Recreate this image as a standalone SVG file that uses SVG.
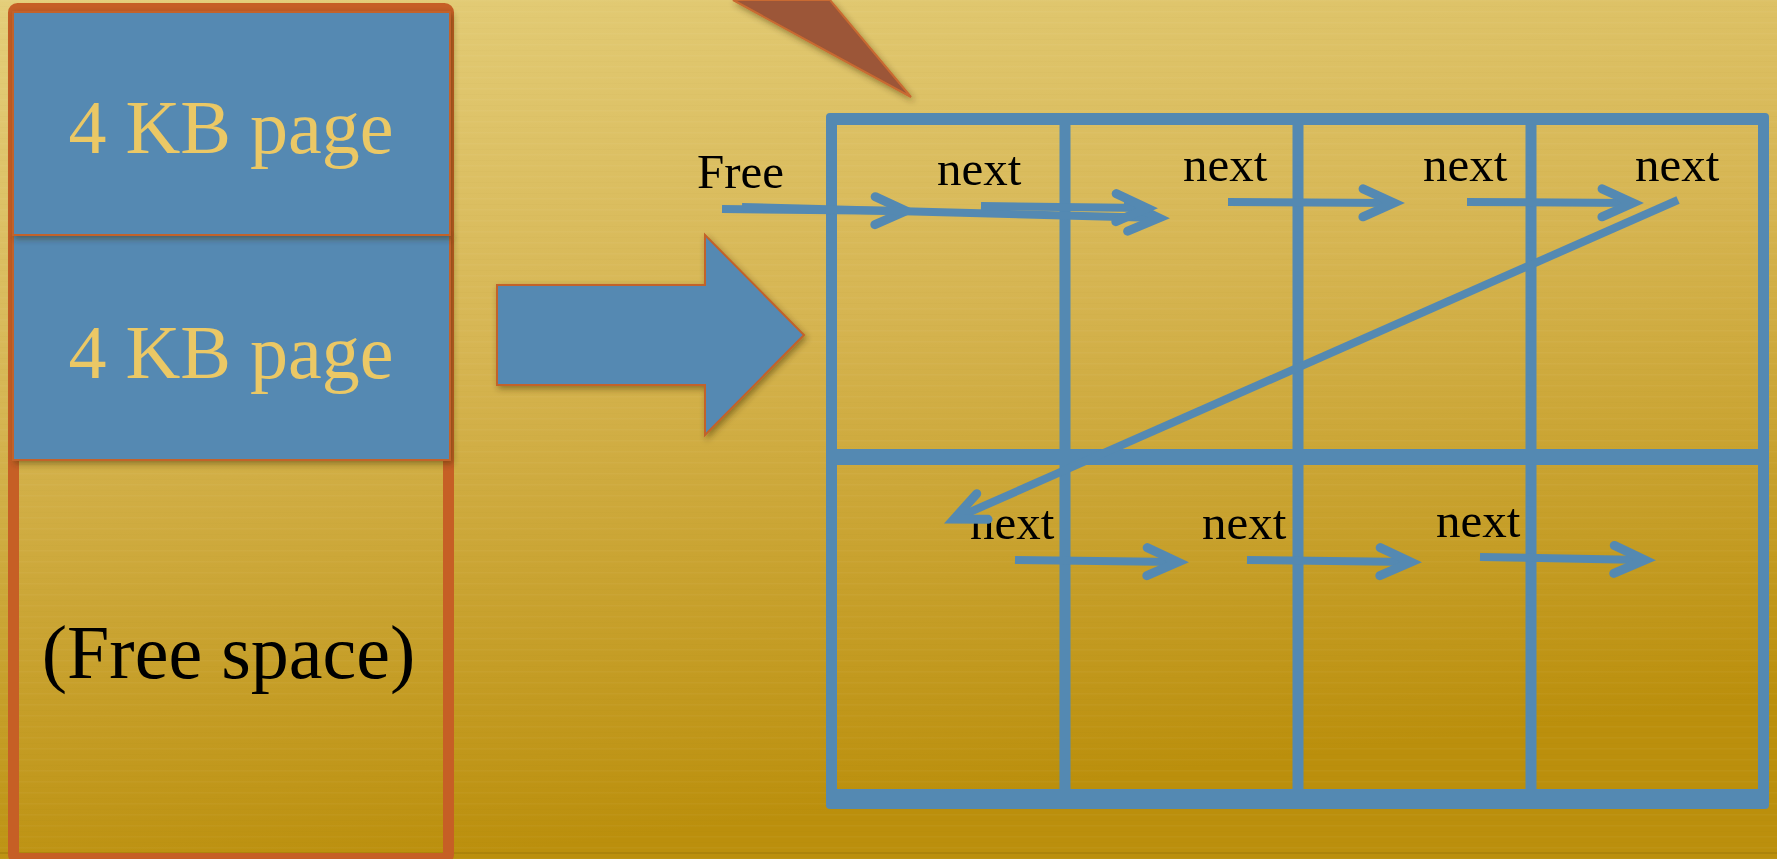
<svg xmlns="http://www.w3.org/2000/svg" width="1777" height="859" viewBox="0 0 1777 859">
<defs>
<linearGradient id="bg" x1="0" y1="0" x2="0.25" y2="1">
<stop offset="0" stop-color="#e4ce7a"/>
<stop offset="0.45" stop-color="#d6b552"/>
<stop offset="1" stop-color="#bb8f0c"/>
</linearGradient>
<pattern id="stripes" width="20" height="11" patternUnits="userSpaceOnUse">
<rect x="0" y="0" width="20" height="1.5" fill="#ffffff" opacity="0.03"/>
<rect x="0" y="6" width="20" height="1" fill="#7a5a00" opacity="0.02"/>
</pattern>
<filter id="sh" x="-10%" y="-10%" width="120%" height="130%">
<feDropShadow dx="2" dy="3" stdDeviation="3" flood-color="#3a2a00" flood-opacity="0.45"/>
</filter>
<marker id="ah" markerUnits="userSpaceOnUse" viewBox="-44 -24 54 48" markerWidth="54" markerHeight="48" refX="0" refY="0" orient="auto" overflow="visible">
<path d="M-31,-14 L0,0 L-31,14" fill="none" stroke="#5489b2" stroke-width="9" stroke-linecap="round" stroke-linejoin="miter"/>
</marker>
<style>
.blue{fill:#5489b2;stroke:#c2622a;stroke-width:2}
.pg{font-family:"Liberation Serif","Times New Roman",serif;font-size:76px;fill:#ebc865;text-anchor:middle}
.blk{font-family:"Liberation Serif","Times New Roman",serif;fill:#000}
.lbl{font-family:"Liberation Serif","Times New Roman",serif;font-size:49px;fill:#000}
.grid{fill:#5489b2}
.ln{stroke:#5489b2;stroke-width:8;fill:none;marker-end:url(#ah)}
</style>
</defs>
<rect x="0" y="0" width="1777" height="859" fill="url(#bg)"/>
<rect x="0" y="0" width="1777" height="859" fill="url(#stripes)"/>
<rect x="0" y="852" width="1777" height="2" fill="#a07a08" opacity="0.5"/>

<g id="triangle">
<polygon points="733,0 830,0 911,97" fill="#9c5637" stroke="#c86a30" stroke-width="2" filter="url(#sh)"/>
</g>

<g id="memory">
<rect x="13.5" y="8.5" width="435" height="850" rx="4" fill="none" stroke="#c65f25" stroke-width="11"/>
<text class="blk" x="228.5" y="678" font-size="76" text-anchor="middle">(Free space)</text>
</g>
<g id="page2">
<rect class="blue" x="13" y="235" width="437" height="225" filter="url(#sh)"/>
<text class="pg" x="231" y="378">4 KB page</text>
</g>
<g id="page1">
<rect class="blue" x="13" y="12" width="437" height="223" filter="url(#sh)"/>
<text class="pg" x="231" y="153">4 KB page</text>
</g>

<g id="bigarrow">
<polygon class="blue" points="497,285 705,285 705,235 804,335 705,435 705,385 497,385" filter="url(#sh)"/>
</g>

<g id="grid">
<path class="grid" fill-rule="evenodd" d="M830,113 H1765 Q1769,113 1769,117 V805 Q1769,809 1765,809 H830 Q826,809 826,805 V117 Q826,113 830,113 Z M837,125 V789 H1758 V125 Z"/>
<rect class="grid" x="1059.5" y="120" width="11" height="680"/>
<rect class="grid" x="1292.5" y="120" width="11" height="680"/>
<rect class="grid" x="1525.5" y="120" width="11" height="680"/>
<rect class="grid" x="830" y="449" width="935" height="16"/>
</g>

<g id="labels">
<text class="lbl" x="697" y="188">Free</text>
<text class="lbl" x="937" y="185">next</text>
<text class="lbl" x="1183" y="181">next</text>
<text class="lbl" x="1423" y="181">next</text>
<text class="lbl" x="1635" y="181">next</text>
<text class="lbl" x="970" y="539">next</text>
<text class="lbl" x="1202" y="539">next</text>
<text class="lbl" x="1436" y="537">next</text>
</g>

<g id="connectors">
<line class="ln" x1="722" y1="209" x2="906" y2="211"/>
<line class="ln" x1="742" y1="207" x2="1159" y2="218"/>
<line class="ln" x1="981" y1="206" x2="1147" y2="208"/>
<line class="ln" x1="1228" y1="202" x2="1394" y2="203"/>
<line class="ln" x1="1467" y1="202" x2="1633" y2="203"/>
<line class="ln" x1="1678" y1="200" x2="954" y2="519"/>
<line class="ln" x1="1015" y1="560" x2="1178" y2="562"/>
<line class="ln" x1="1247" y1="560" x2="1411" y2="562"/>
<line class="ln" x1="1480" y1="557" x2="1645" y2="560"/>
</g>
</svg>
